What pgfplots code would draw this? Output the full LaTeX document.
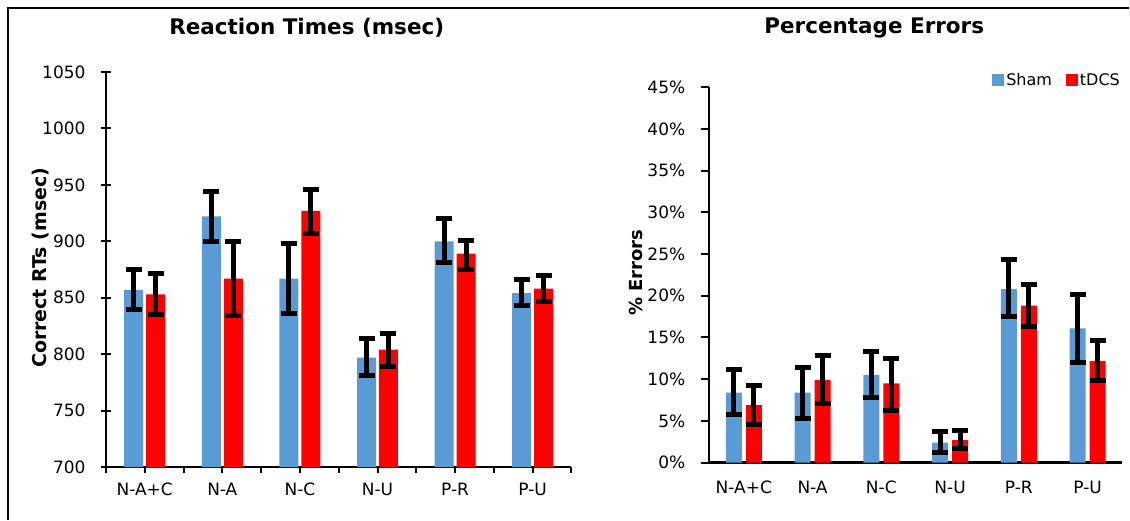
\documentclass[border=0pt]{standalone}
\usepackage{pgfplots}
\usepackage{pgfplotstable}
\pgfplotsset{compat=1.18}
\usepackage{fontspec}
\setmainfont{DejaVu Sans}
\definecolor{shamblue}{RGB}{91,155,213}
\definecolor{tdcsred}{RGB}{255,0,0}

\pgfplotstableread{
x y ep em
0 857 18 17
1 922 22 22
2 867 31 31
3 797 16.5 16
4 900 20.5 19
5 854 12.5 11
}\rtsham
\pgfplotstableread{
x y ep em
0 853 18.5 18
1 867 33 33
2 927 19 20
3 804 14.5 14.5
4 889 12 14
5 858 12 11.5
}\rttdcs
\pgfplotstableread{
x y ep em
0 8.4 2.8 2.65
1 8.4 3.05 3.15
2 10.5 2.8 2.75
3 2.4 1.3 1.2
4 20.8 3.5 3.3
5 16.1 4.0 4.1
}\ersham
\pgfplotstableread{
x y ep em
0 6.9 2.3 2.3
1 9.9 2.9 2.8
2 9.5 3.0 3.2
3 2.7 1.15 1.05
4 18.8 2.6 2.5
5 12.2 2.45 2.35
}\ertdcs

\pgfplotsset{
  panel/.style={
    scale only axis, axis lines*=left,
    axis line style={line width=2.2pt, black},
    xmin=-0.5, xmax=5.5,
    tick style={line width=2pt, black},
    ticklabel style={font=\fontsize{17}{17}\selectfont, inner sep=0pt},
    /pgf/number format/assume math mode=true,
    /pgf/number format/set thousands separator={},
    clip=false,
  },
  errs/.style={error bars/.cd, y dir=both, y explicit, error mark=|,
    error bar style={line width=5pt, draw=black, xshift=#1},
    error mark options={line width=5pt, draw=black, fill=black, solid, mark size=8pt, xshift=#1}},
}

\begin{document}
\begin{tikzpicture}[x=1pt,y=1pt]

% ---------- Left panel ----------
\begin{axis}[panel,
  at={(106pt,52.5pt)}, anchor=south west,
  width=466pt, height=395.5pt,
  ymin=700, ymax=1050, ytick={700,750,...,1050},
  tick align=outside,
  ytick style={/pgfplots/major tick length=10pt, xshift=5pt},
  yticklabel shift=16pt,
  xtick={-0.5,0.5,...,5.5}, xticklabels={},
  xtick style={/pgfplots/major tick length=6pt},
  extra x ticks={0,1,2,3,4,5},
  extra x tick labels={N-A+C,N-A,N-C,N-U,P-R,P-U},
  extra x tick style={/pgfplots/major tick length=0pt},
  xticklabel shift=16pt,
]
\addplot[ybar, bar width=19pt, bar shift=-11pt, fill=shamblue, draw=none, errs=-11pt]
  table[x=x, y=y, y error plus=ep, y error minus=em] {\rtsham};
\addplot[ybar, bar width=19pt, bar shift=11pt, fill=tdcsred, draw=none, errs=11pt]
  table[x=x, y=y, y error plus=ep, y error minus=em] {\rttdcs};
\end{axis}

% ---------- Right panel ----------
\begin{axis}[panel,
  at={(710pt,57pt)}, anchor=south west,
  width=413pt, height=375.75pt,
  ymin=0, ymax=45, ytick={0,5,...,45},
  yticklabels={0\%,5\%,10\%,15\%,20\%,25\%,30\%,35\%,40\%,45\%},
  tick align=outside, major tick length=8pt,
  yticklabel shift=16pt,
  xtick={0,1,2,3,4,5},
  xticklabels={N-A+C,N-A,N-C,N-U,P-R,P-U},
  xtick style={draw=none},
  xticklabel shift=10pt,
  legend columns=2,
  legend style={at={(1,1)}, anchor=east, yshift=7pt, draw=none, fill=none,
    font=\fontsize{16}{16}\selectfont, inner sep=0pt,
    nodes={inner sep=2pt},
    /tikz/every even column/.append style={column sep=12pt}},
]
\addplot[ybar, bar width=16pt, bar shift=-10pt, fill=shamblue, draw=none,
  legend image code/.code={\fill[shamblue] (0pt,-6pt) rectangle (12pt,6pt);}, errs=-10pt]
  table[x=x, y=y, y error plus=ep, y error minus=em] {\ersham};
\addlegendentry{Sham}
\addplot[ybar, bar width=16pt, bar shift=10pt, fill=tdcsred, draw=none,
  legend image code/.code={\fill[tdcsred] (0pt,-6pt) rectangle (12pt,6pt);}, errs=10pt]
  table[x=x, y=y, y error plus=ep, y error minus=em] {\ertdcs};
\addlegendentry{tDCS}
\end{axis}

\node[font=\bfseries\fontsize{21.5}{21.5}\selectfont, anchor=base] at (307,485) {Reaction Times (msec)};
\node[font=\bfseries\fontsize{21.5}{21.5}\selectfont, anchor=base] at (875,486) {Percentage Errors};
\node[font=\bfseries\fontsize{19}{19}\selectfont, rotate=90, anchor=base] at (47,252) {Correct RTs (msec)};
\node[font=\bfseries\fontsize{18}{18}\selectfont, rotate=90, anchor=base] at (643,247) {\% Errors};

\draw[line width=2pt] (8,0) -- (8,512) -- (1130,512);
\path (0,0) rectangle (1130,520);
\end{tikzpicture}
\end{document}
